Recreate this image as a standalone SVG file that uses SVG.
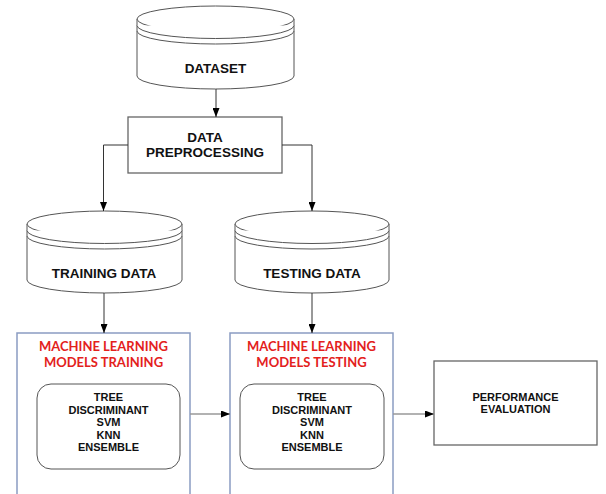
<svg xmlns="http://www.w3.org/2000/svg" width="606" height="494" viewBox="0 0 606 494">
<defs>
<marker id="ah" markerUnits="userSpaceOnUse" markerWidth="9" markerHeight="7" refX="9" refY="3.5" orient="auto">
<path d="M0,0 L9,3.5 L0,7 z" fill="#000"/>
</marker>
<style>
.cyl{fill:#fff;stroke:#555;stroke-width:1}
.t{font-family:"Liberation Sans",Arial,sans-serif;font-weight:bold;fill:#111;text-anchor:middle}
.big{font-size:13.5px}
.sm{font-size:11px}
.red{font-family:Lato,"Liberation Sans",sans-serif;font-weight:bold;font-size:13px;fill:#e3211c;text-anchor:middle}
.outer{fill:#fff;stroke:#8a9cc2;stroke-width:1.5}
.box{fill:#fff;stroke:#666;stroke-width:1.3}
.rbox{fill:#fff;stroke:#555;stroke-width:1}
.c{fill:none;stroke:#333;stroke-width:1}
.cg{fill:none;stroke:#999;stroke-width:1.3}
</style>
</defs>
<rect width="606" height="494" fill="#fff"/>

<g id="dataset">
<path class="cyl" d="M137 19 V76 A78.5 13 0 0 0 294 76 V19"/>
<ellipse class="cyl" cx="215.5" cy="19" rx="78.5" ry="13"/>
<path class="cyl" fill="none" d="M137 25.5 A78.5 13 0 0 0 294 25.5 M137 31 A78.5 13 0 0 0 294 31"/>
<text class="t big" x="215.5" y="73">DATASET</text>
</g>

<g id="preprocessing">
<rect class="box" x="128" y="117" width="154" height="56"/>
<text class="t big" x="205" y="142">DATA</text>
<text class="t big" x="205" y="157">PREPROCESSING</text>
</g>

<g id="training-data">
<path class="cyl" d="M27 224 V280 A77.5 13 0 0 0 182 280 V224"/>
<ellipse class="cyl" cx="104.5" cy="224" rx="77.5" ry="13"/>
<path class="cyl" fill="none" d="M27 230.5 A77.5 13 0 0 0 182 230.5 M27 236 A77.5 13 0 0 0 182 236"/>
<text class="t big" x="104" y="278">TRAINING DATA</text>
</g>

<g id="testing-data">
<path class="cyl" d="M235 224 V280 A77 13 0 0 0 389 280 V224"/>
<ellipse class="cyl" cx="312" cy="224" rx="77" ry="13"/>
<path class="cyl" fill="none" d="M235 230.5 A77 13 0 0 0 389 230.5 M235 236 A77 13 0 0 0 389 236"/>
<text class="t big" x="312" y="278">TESTING DATA</text>
</g>

<g id="ml-training">
<rect class="outer" x="17" y="333" width="173" height="170"/>
<text class="red" x="103.5" y="350.5">MACHINE LEARNING</text>
<text class="red" x="103.5" y="366.5">MODELS TRAINING</text>
<rect class="rbox" x="37" y="384" width="143" height="85" rx="14"/>
<text class="t sm" x="108.5" y="401">TREE</text>
<text class="t sm" x="108.5" y="413.5">DISCRIMINANT</text>
<text class="t sm" x="108.5" y="426">SVM</text>
<text class="t sm" x="108.5" y="438.5">KNN</text>
<text class="t sm" x="108.5" y="451">ENSEMBLE</text>
</g>

<g id="ml-testing">
<rect class="outer" x="230" y="333" width="163" height="170"/>
<text class="red" x="311.5" y="350.5">MACHINE LEARNING</text>
<text class="red" x="311.5" y="366.5">MODELS TESTING</text>
<rect class="rbox" x="240" y="384" width="144" height="85" rx="14"/>
<text class="t sm" x="312" y="401">TREE</text>
<text class="t sm" x="312" y="413.5">DISCRIMINANT</text>
<text class="t sm" x="312" y="426">SVM</text>
<text class="t sm" x="312" y="438.5">KNN</text>
<text class="t sm" x="312" y="451">ENSEMBLE</text>
</g>

<g id="performance">
<rect class="box" x="434" y="361" width="163" height="84"/>
<text class="t sm" x="515.5" y="401">PERFORMANCE</text>
<text class="t sm" x="515.5" y="413">EVALUATION</text>
</g>

<g id="connectors">
<path class="c" d="M216 89 V117" marker-end="url(#ah)"/>
<path class="c" d="M128 145 H103.5 V211" marker-end="url(#ah)"/>
<path class="c" d="M282 145 H312 V211" marker-end="url(#ah)"/>
<path class="c" d="M104 293 V333" marker-end="url(#ah)"/>
<path class="c" d="M312 293 V333" marker-end="url(#ah)"/>
<path class="cg" d="M190 414 H230" marker-end="url(#ah)"/>
<path class="cg" d="M393 414 H434" marker-end="url(#ah)"/>
</g>
</svg>
